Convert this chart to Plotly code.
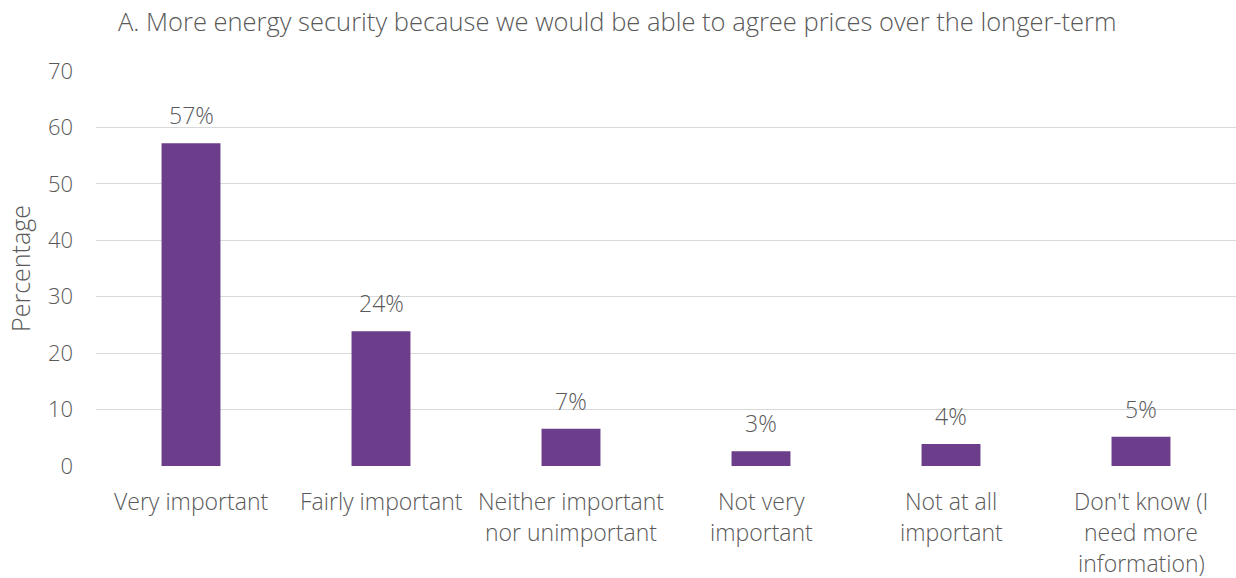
import plotly.graph_objects as go

# Survey responses: importance of longer-term price agreements for energy security
categories = [
    "Very important",
    "Fairly important",
    "Neither important<br>nor unimportant",
    "Not very<br>important",
    "Not at all<br>important",
    "Don't know (I<br>need more<br>information)",
]
percentages = [57.2, 23.9, 6.6, 2.6, 3.9, 5.2]
y_ticks = [0, 10, 20, 30, 40, 50, 60, 70]

title_text = "A. More energy security because we would be able to agree prices over the longer-term"
y_title = "Percentage"

FONT = "Open Sans"
WEIGHT = 300
TEXT_COLOR = "#595959"
BAR_COLOR = "#6B3D8B"


def font(size):
    return dict(family=FONT, size=size, color=TEXT_COLOR, weight=WEIGHT)


x_pos = list(range(len(categories)))

fig = go.Figure(
    go.Bar(
        x=x_pos,
        y=percentages,
        marker=dict(color=BAR_COLOR, line=dict(width=0)),
        width=0.31,
        hovertemplate="%{y:.0f}%<extra></extra>",
    )
)

annotations = []

# Value labels above each bar, formatted from the bar values
for i, v in zip(x_pos, percentages):
    annotations.append(
        dict(
            x=i, y=v, xref="x", yref="y",
            text=f"{v:.0f}%", showarrow=False,
            xanchor="center", yanchor="bottom", yshift=10,
            font=font(23),
        )
    )

# Category labels drawn line by line for wider line spacing
for i, cat in enumerate(categories):
    for j, line in enumerate(cat.split("<br>")):
        annotations.append(
            dict(
                x=i, y=0, xref="x", yref="paper",
                text=line, showarrow=False,
                yanchor="middle", xanchor="center",
                yshift=-35 - 31 * j,
                font=font(23),
            )
        )

fig.update_layout(
    width=1236,
    height=578,
    margin=dict(l=96, r=0, t=71, b=112),
    paper_bgcolor="white",
    plot_bgcolor="white",
    showlegend=False,
    title=dict(
        text=title_text,
        x=118 / 1236, xanchor="left",
        y=1 - 22 / 578, yanchor="middle",
        font=font(25.5),
    ),
    annotations=annotations,
    xaxis=dict(
        range=[-0.5, len(categories) - 0.5],
        showticklabels=False,
        showgrid=False,
        zeroline=False,
        showline=False,
        fixedrange=True,
    ),
    yaxis=dict(
        range=[0, 70],
        tickvals=y_ticks,
        showgrid=True,
        gridcolor="#D9D9D9",
        gridwidth=1,
        zeroline=False,
        showline=False,
        ticklabelstandoff=22,
        tickfont=font(22),
        title=dict(text=y_title, font=font(25), standoff=10),
    ),
)

fig.write_html("out.html")
